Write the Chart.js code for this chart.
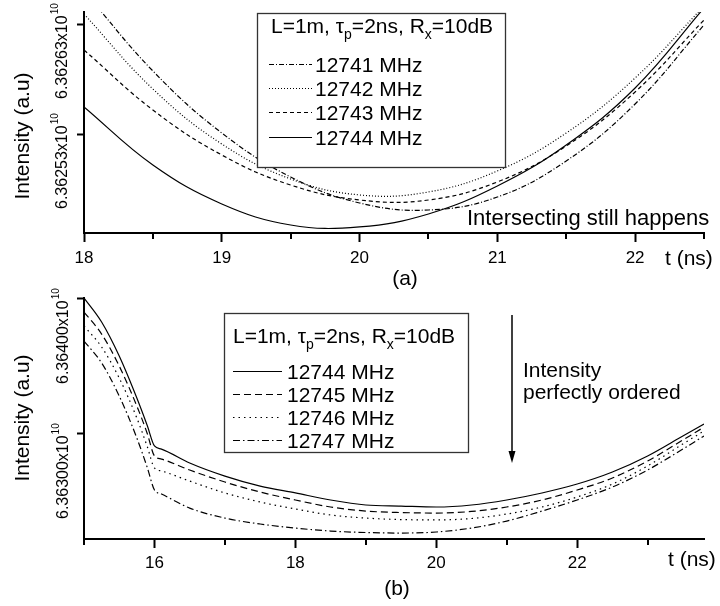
<!DOCTYPE html>
<html>
<head>
<meta charset="utf-8">
<script src="https://cdn.jsdelivr.net/npm/chart.js@4.4.1/dist/chart.umd.min.js"></script>
<style>
  html, body { margin: 0; padding: 0; background: #fff; }
  #wrap { position: relative; width: 720px; height: 606px; background: #fff; overflow: hidden; }
  #wrap canvas { position: absolute; left: 0; }
</style>
</head>
<body>
<div id="wrap">
  <canvas id="panelA" width="720" height="300" style="top:0px"></canvas>
  <canvas id="panelB" width="720" height="336" style="top:270px"></canvas>
</div>
<script>
// ---- Panel (a): intensity near the minimum, 12741-12744 MHz (values in units of 10^10) ----
const timeA = [18, 18.5, 19, 19.5, 20, 20.5, 21, 21.5, 22, 22.5];
const i12741A = [6.3626609, 6.3625882, 6.3625318, 6.3624918, 6.3624682, 6.3624618, 6.3624736, 6.3625064, 6.3625582, 6.3626300];
const i12742A = [6.3626400, 6.3625718, 6.3625218, 6.3624900, 6.3624755, 6.3624782, 6.3624973, 6.3625318, 6.3625818, 6.3626473];
const i12743A = [6.3626073, 6.3625527, 6.3625118, 6.3624845, 6.3624709, 6.3624709, 6.3624873, 6.3625200, 6.3625691, 6.3626345];
const i12744A = [6.3625555, 6.3625027, 6.3624673, 6.3624482, 6.3624464, 6.3624582, 6.3624836, 6.3625209, 6.3625727, 6.3626455];
const xTicksA = [18, 19, 20, 21, 22];
const xMinorA = [18.5, 19.5, 20.5, 21.5, 22.5];
const yTicksA = [6.36253, 6.36263];
const yTickTextA = ['6.36253', '6.36263'];

// ---- Panel (b): intensity over the whole pulse, 12744-12747 MHz (values in units of 10^10) ----
const timeB = [15, 15.25, 15.5, 15.75, 15.9, 16, 16.1, 16.5, 17, 17.5, 18, 18.5, 19, 19.5, 20, 20.5, 21, 21.5, 22, 22.5, 23, 23.5, 23.8];
const i12744B = [6.364000, 6.363822, 6.363570, 6.363259, 6.363052, 6.362904, 6.362881, 6.362778, 6.362681, 6.362607, 6.362556, 6.362504, 6.362467, 6.362459, 6.362452, 6.362467, 6.362504, 6.362556, 6.362622, 6.362711, 6.362830, 6.362978, 6.363067];
const i12745B = [6.363896, 6.363733, 6.363496, 6.363200, 6.362993, 6.362830, 6.362807, 6.362726, 6.362637, 6.362563, 6.362504, 6.362452, 6.362422, 6.362411, 6.362407, 6.362419, 6.362452, 6.362504, 6.362578, 6.362667, 6.362793, 6.362948, 6.363044];
const i12746B = [6.363793, 6.363637, 6.363407, 6.363111, 6.362896, 6.362741, 6.362719, 6.362644, 6.362556, 6.362489, 6.362437, 6.362393, 6.362370, 6.362359, 6.362356, 6.362367, 6.362400, 6.362452, 6.362526, 6.362622, 6.362756, 6.362919, 6.363015];
const i12747B = [6.363681, 6.363519, 6.363274, 6.362963, 6.362741, 6.362578, 6.362548, 6.362444, 6.362370, 6.362326, 6.362296, 6.362274, 6.362263, 6.362259, 6.362267, 6.362296, 6.362348, 6.362422, 6.362504, 6.362600, 6.362726, 6.362881, 6.362978];
const xTicksB = [16, 18, 20, 22];
const xMinorB = [15, 17, 19, 21, 23];
const yTicksB = [6.363, 6.364];
const yTickTextB = ['6.36300', '6.36400'];

const FONT = "'Liberation Sans', Arial, Helvetica, sans-serif";

const legendTitle = [
  { t: 'L=1m, \u03C4' }, { t: 'p', sub: true }, { t: '=2ns, R' }, { t: 'x', sub: true }, { t: '=10dB' }
];

// layout of each panel (page coordinates)
const panelA = {
  canvas: 'panelA', offY: 0, height: 300,
  time: timeA, smooth: 'tension',
  series: [
    { label: '12741 MHz', values: i12741A, dash: [5, 2, 1, 2] },
    { label: '12742 MHz', values: i12742A, dash: [1, 2] },
    { label: '12743 MHz', values: i12743A, dash: [4, 3] },
    { label: '12744 MHz', values: i12744A, dash: [] }
  ],
  xMin: 18, xMax: 22.5, yMin: 6.3624409, yMax: 6.3626418,
  xTicks: xTicksA, xMinor: xMinorA, yTicks: yTicksA, yTickText: yTickTextA,
  area: { top: 12, bottom: 233 },
  xLabelY: 263,
  yLabelX: 67, yLabelShift: 74,
  yTitle: { x: 29, y: 136 },
  xTitle: { x: 665, y: 265 },
  tag: { text: '(a)', x: 405, y: 285 },
  notes: [{ text: 'Intersecting still happens', x: 467, y: 225, size: 22 }],
  arrow: null,
  legend: { x: 257, y: 13, w: 248, h: 154, titleX: 271, titleY: 33, rows: [72, 96, 120, 145], s0: 269, s1: 312, textX: 315 }
};
const panelB = {
  canvas: 'panelB', offY: 270, height: 336,
  time: timeB, smooth: 'monotone',
  series: [
    { label: '12744 MHz', values: i12744B, dash: [] },
    { label: '12745 MHz', values: i12745B, dash: [7, 4] },
    { label: '12746 MHz', values: i12746B, dash: [1.5, 4] },
    { label: '12747 MHz', values: i12747B, dash: [7, 3, 1.5, 3] }
  ],
  xMin: 15, xMax: 23.8, yMin: 6.362215, yMax: 6.364,
  xTicks: xTicksB, xMinor: xMinorB, yTicks: yTicksB, yTickText: yTickTextB,
  area: { top: 298, bottom: 539 },
  xLabelY: 568,
  yLabelX: 68, yLabelShift: 86,
  yTitle: { x: 29, y: 418 },
  xTitle: { x: 668, y: 566 },
  tag: { text: '(b)', x: 397, y: 595 },
  notes: [
    { text: 'Intensity', x: 523, y: 377, size: 21 },
    { text: 'perfectly ordered', x: 523, y: 399, size: 21 }
  ],
  arrow: { x: 512, y0: 315, y1: 463 },
  legend: { x: 224, y: 313, w: 244, h: 139, titleX: 233, titleY: 343, rows: [379, 402, 425, 448], s0: 233, s1: 282, textX: 287 }
};

function decor(p) {
  return {
    id: 'decor',
    afterDraw(chart) {
      const ctx = chart.ctx, xs = chart.scales.x, ys = chart.scales.y, area = chart.chartArea;
      const oy = p.offY;
      ctx.save();
      ctx.fillStyle = '#000';
      ctx.strokeStyle = '#000';

      // minor ticks on the time axis
      ctx.lineWidth = 2;
      p.xMinor.forEach(v => {
        const px = Math.round(xs.getPixelForValue(v));
        ctx.beginPath();
        ctx.moveTo(px, area.bottom);
        ctx.lineTo(px, area.bottom + 6);
        ctx.stroke();
      });

      // time tick labels
      ctx.font = '17px ' + FONT;
      ctx.textAlign = 'center';
      ctx.textBaseline = 'alphabetic';
      p.xTicks.forEach(v => {
        ctx.fillText(String(v), xs.getPixelForValue(v), p.xLabelY - oy);
      });

      // rotated intensity tick labels: "6.36253x10^10"
      p.yTicks.forEach((v, i) => {
        const py = ys.getPixelForValue(v);
        const main = p.yTickText[i] + 'x10';
        ctx.save();
        ctx.translate(p.yLabelX, py + p.yLabelShift);
        ctx.rotate(-Math.PI / 2);
        ctx.textAlign = 'left';
        ctx.textBaseline = 'alphabetic';
        ctx.font = '16px ' + FONT;
        ctx.fillText(main, 0, 0);
        const w = ctx.measureText(main).width;
        ctx.font = '10px ' + FONT;
        ctx.fillText('10', w + 1, -9);
        ctx.restore();
      });

      // axis titles
      ctx.save();
      ctx.translate(p.yTitle.x, p.yTitle.y - oy);
      ctx.rotate(-Math.PI / 2);
      ctx.textAlign = 'center';
      ctx.textBaseline = 'alphabetic';
      ctx.font = '21px ' + FONT;
      ctx.fillText('Intensity (a.u)', 0, 0);
      ctx.restore();

      ctx.textAlign = 'left';
      ctx.textBaseline = 'alphabetic';
      ctx.font = '21px ' + FONT;
      ctx.fillText('t (ns)', p.xTitle.x, p.xTitle.y - oy);

      ctx.textAlign = 'center';
      ctx.fillText(p.tag.text, p.tag.x, p.tag.y - oy);

      // notes
      ctx.textAlign = 'left';
      p.notes.forEach(n => {
        ctx.font = n.size + 'px ' + FONT;
        ctx.fillText(n.text, n.x, n.y - oy);
      });

      // arrow
      if (p.arrow) {
        const a = p.arrow;
        ctx.lineWidth = 1.5;
        ctx.beginPath();
        ctx.moveTo(a.x, a.y0 - oy);
        ctx.lineTo(a.x, a.y1 - oy - 8);
        ctx.stroke();
        ctx.beginPath();
        ctx.moveTo(a.x - 3.5, a.y1 - oy - 12);
        ctx.lineTo(a.x + 3.5, a.y1 - oy - 12);
        ctx.lineTo(a.x, a.y1 - oy);
        ctx.closePath();
        ctx.fill();
      }

      // legend box
      const L = p.legend;
      ctx.fillStyle = '#fff';
      ctx.fillRect(L.x, L.y - oy, L.w, L.h);
      ctx.strokeStyle = '#333';
      ctx.lineWidth = 1.3;
      ctx.strokeRect(L.x + 0.5, L.y - oy + 0.5, L.w, L.h);
      ctx.fillStyle = '#000';
      ctx.strokeStyle = '#000';
      let tx = L.titleX;
      legendTitle.forEach(part => {
        if (part.sub) {
          ctx.font = '14px ' + FONT;
          ctx.fillText(part.t, tx, L.titleY - oy + 6);
        } else {
          ctx.font = '21px ' + FONT;
          ctx.fillText(part.t, tx, L.titleY - oy);
        }
        tx += ctx.measureText(part.t).width;
      });
      chart.data.datasets.forEach((ds, i) => {
        const by = L.rows[i] - oy;
        ctx.save();
        ctx.lineWidth = 1.2;
        ctx.setLineDash(ds.borderDash || []);
        ctx.beginPath();
        ctx.moveTo(L.s0, by - 7.5);
        ctx.lineTo(L.s1, by - 7.5);
        ctx.stroke();
        ctx.restore();
        ctx.font = '21px ' + FONT;
        ctx.fillText(ds.label, L.textX, by);
      });
      ctx.restore();
    }
  };
}

function makePanel(p) {
  const top = p.area.top - p.offY;
  const xAxisH = p.height - (p.area.bottom - p.offY);
  return new Chart(document.getElementById(p.canvas), {
    type: 'line',
    data: {
      datasets: p.series.map(s => ({
        label: s.label,
        data: p.time.map((t, i) => ({ x: t, y: s.values[i] })),
        borderColor: '#000',
        borderWidth: 1.2,
        borderDash: s.dash,
        pointRadius: 0,
        fill: false,
        tension: p.smooth === 'tension' ? 0.4 : 0,
        cubicInterpolationMode: p.smooth === 'monotone' ? 'monotone' : 'default'
      }))
    },
    options: {
      responsive: false,
      animation: false,
      devicePixelRatio: 1,
      layout: { padding: { left: 0, right: 16, top: top, bottom: 0 } },
      plugins: { legend: { display: false }, tooltip: { enabled: false } },
      scales: {
        x: {
          type: 'linear', min: p.xMin, max: p.xMax,
          afterBuildTicks: sc => { sc.ticks = p.xTicks.map(v => ({ value: v })); },
          afterFit: sc => { sc.height = xAxisH; },
          ticks: { display: false },
          grid: { drawOnChartArea: false, drawTicks: true, tickLength: 9, tickWidth: 2, tickColor: '#000' },
          border: { display: true, color: '#000', width: 2 }
        },
        y: {
          type: 'linear', min: p.yMin, max: p.yMax,
          afterBuildTicks: sc => { sc.ticks = p.yTicks.map(v => ({ value: v })); },
          afterFit: sc => { sc.width = 84; },
          ticks: { display: false },
          grid: { drawOnChartArea: false, drawTicks: true, tickLength: 7, tickWidth: 2, tickColor: '#000' },
          border: { display: true, color: '#000', width: 2 }
        }
      }
    },
    plugins: [decor(p)]
  });
}

makePanel(panelA);
makePanel(panelB);
</script>
</body>
</html>
